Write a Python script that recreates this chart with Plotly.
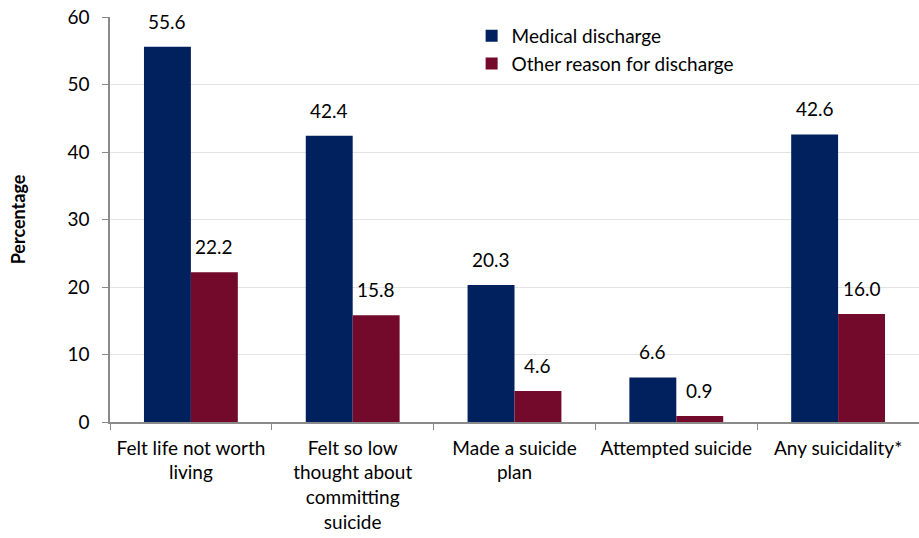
import plotly.graph_objects as go

categories = ["Felt life not worth<br>living", "Felt so low<br>thought about<br>committing<br>suicide",
              "Made a suicide<br>plan", "Attempted suicide", "Any suicidality*"]
medical = [55.6, 42.4, 20.3, 6.6, 42.6]
other = [22.2, 15.8, 4.6, 0.9, 16.0]
series_names = ["Medical discharge", "Other reason for discharge"]
colors = ["#00215E", "#730A2B"]
y_ticks = [0, 10, 20, 30, 40, 50, 60]

FONT = "Lato, 'Open Sans', sans-serif"
FS = 19
W, H = 919, 538
ML, MR, MT, MB = 110, 0, 17, 116
BARGAP = 0.42

fig = go.Figure()
for name, vals, col in zip(series_names, [medical, other], colors):
    fig.add_trace(go.Bar(
        x=categories, y=vals, name=name, marker=dict(color=col, line=dict(width=0)),
    ))

# value labels placed above each bar (offset by half a bar width within each group)
cat_w = (W - ML - MR) / len(categories)
bar_w = cat_w * (1 - BARGAP) / 2
for si, vals in enumerate([medical, other]):
    for c, v in zip(categories, vals):
        fig.add_annotation(
            x=c, y=v, text=f"{v:.1f}", showarrow=False,
            xshift=(si - 0.5) * bar_w, yshift=12, yanchor="bottom",
            font=dict(size=FS, color="#000000", family=FONT),
        )

fig.update_layout(
    width=W, height=H,
    margin=dict(l=ML, r=MR, t=MT, b=MB),
    barmode="group", bargap=BARGAP, bargroupgap=0,
    plot_bgcolor="white", paper_bgcolor="white",
    font=dict(family=FONT, size=FS, color="#000000"),
    showlegend=True,
    legend=dict(x=0.447, y=1.0, xanchor="left", yanchor="top",
                font=dict(size=FS, family=FONT), bgcolor="rgba(255,255,255,0)",
                itemwidth=30),
)
fig.update_yaxes(
    range=[0, 60], tickvals=y_ticks, showgrid=True, gridcolor="#E3E3E3",
    showline=True, linecolor="#8A8A8A", linewidth=1.5, ticks="outside", ticklen=6,
    tickcolor="#8A8A8A", tickfont=dict(size=FS), zeroline=False, automargin=False,
    ticklabelstandoff=9,
    title=dict(text="<b>Percentage</b>", font=dict(size=18), standoff=37),
)
fig.update_xaxes(
    showline=True, linecolor="#8A8A8A", linewidth=1.5, ticks="outside", ticklen=6,
    tickcolor="#8A8A8A", tickson="boundaries", tickfont=dict(size=FS), automargin=False,
    ticklabelstandoff=8,
)
fig.write_html("out.html", config={"displayModeBar": False},
               post_script="document.body.style.margin='0px';")
